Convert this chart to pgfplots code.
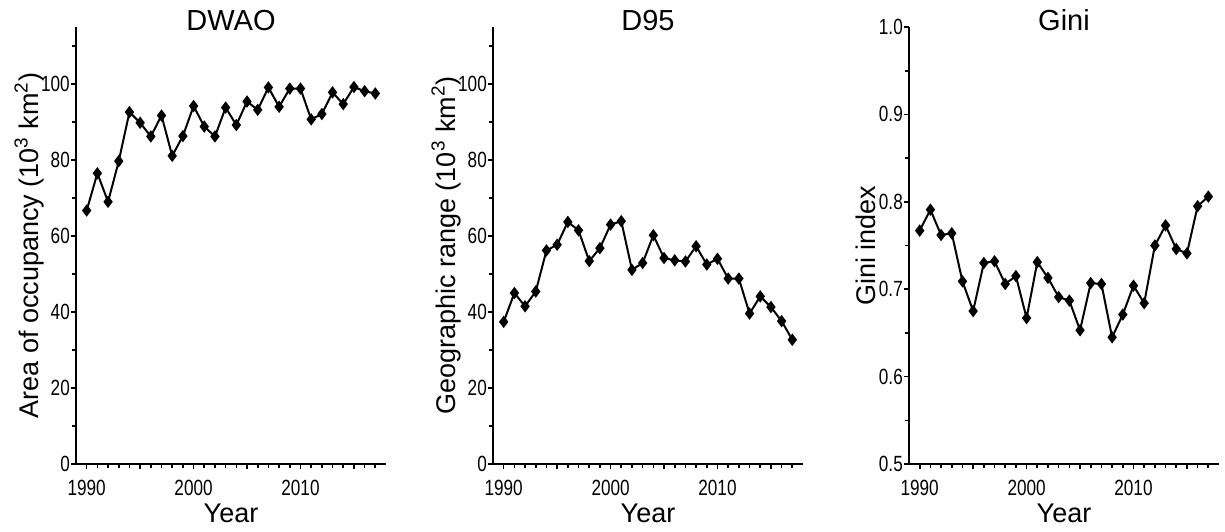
\documentclass[border=0pt]{standalone}
\usepackage{fontspec}
\setmainfont{Liberation Sans}
\newfontfamily\tickfont[FakeStretch=0.78]{Liberation Sans}
\usepackage{pgfplots}
\pgfplotsset{compat=1.18}

\pgfplotsset{
  ser/.style={black, line width=1pt, mark=diamond*, mark size=2.3pt, mark options={solid, fill=black}},
  every axis title/.style={at={(0.5,1)}, anchor=base, yshift=-1.65pt, font=\fontsize{14.5}{16}\selectfont},
  every axis y label/.style={at={(axis description cs:0,0.5)}, anchor=center, rotate=90, yshift=23.5pt, font=\fontsize{13.5}{15}\selectfont},
  every axis x label/.style={at={(axis description cs:0.5,0)}, anchor=base, yshift=-29pt, font=\fontsize{13.5}{15}\selectfont},
  panel/.style={
    scale only axis, width=155pt, height=218.5pt,
    axis x line*=bottom, axis y line*=left,
    axis line style={line width=1pt, black},
    xmin=1989, xmax=2018,
    xtick={1990,1995,...,2015},
    xticklabels={1990,,2000,,2010,},
    minor xtick={1991,...,2017},
    tick align=outside,
    major tick length=2.5pt, minor tick length=2pt,
    every tick/.style={black, line width=0.8pt},
    tick label style={font=\tickfont\fontsize{11}{11}\selectfont},
    /pgf/number format/assume math mode=true,
    yticklabel style={inner sep=0.4pt},
    xticklabel style={yshift=-2.2pt},
    clip=false,
    xlabel={Year},
  }
}

\begin{document}
\begin{tikzpicture}
\path[use as bounding box] (0,0) rectangle (612.5pt,265.5pt);

\begin{axis}[panel, at={(38pt,33.5pt)}, anchor=south west,
  title={DWAO},
  ymin=0, ymax=115,
  ytick={0,20,...,100}, minor ytick={10,30,...,110},
  ylabel={Area of occupancy (10\textsuperscript{3} km\textsuperscript{2})}]
\addplot[ser] coordinates {
(1990,66.7) (1991,76.5) (1992,69.0) (1993,79.7) (1994,92.6) (1995,89.8)
(1996,86.2) (1997,91.7) (1998,81.1) (1999,86.3) (2000,94.2) (2001,88.8)
(2002,86.2) (2003,93.8) (2004,89.2) (2005,95.4) (2006,93.2) (2007,99.1)
(2008,94.0) (2009,98.8) (2010,98.8) (2011,90.7) (2012,92.1) (2013,97.8)
(2014,94.7) (2015,99.2) (2016,98.1) (2017,97.5)
};
\end{axis}

\begin{axis}[panel, at={(246.5pt,33.5pt)}, anchor=south west,
  title={D95},
  ymin=0, ymax=115,
  ytick={0,20,...,100}, minor ytick={10,30,...,110},
  ylabel={Geographic range (10\textsuperscript{3} km\textsuperscript{2})}]
\addplot[ser] coordinates {
(1990,37.4) (1991,45.0) (1992,41.5) (1993,45.4) (1994,56.2) (1995,57.7)
(1996,63.7) (1997,61.5) (1998,53.4) (1999,56.8) (2000,63.0) (2001,63.9)
(2002,51.1) (2003,52.9) (2004,60.2) (2005,54.2) (2006,53.6) (2007,53.3)
(2008,57.3) (2009,52.5) (2010,54.0) (2011,48.8) (2012,48.8) (2013,39.6)
(2014,44.1) (2015,41.3) (2016,37.6) (2017,32.7)
};
\end{axis}

\begin{axis}[panel, at={(454.5pt,33.5pt)}, anchor=south west,
  title={Gini},
  ymin=0.5, ymax=1.0,
  ytick={0.5,0.6,...,1.0}, minor ytick={0.55,0.65,...,0.95},
  yticklabel style={/pgf/number format/.cd, fixed, fixed zerofill, precision=1},
  ylabel style={yshift=-2pt},
  ylabel={Gini index}]
\addplot[ser] coordinates {
(1990,0.767) (1991,0.791) (1992,0.762) (1993,0.764) (1994,0.709) (1995,0.675)
(1996,0.730) (1997,0.732) (1998,0.706) (1999,0.715) (2000,0.667) (2001,0.731)
(2002,0.713) (2003,0.691) (2004,0.687) (2005,0.653) (2006,0.707) (2007,0.706)
(2008,0.645) (2009,0.671) (2010,0.704) (2011,0.684) (2012,0.750) (2013,0.773)
(2014,0.746) (2015,0.741) (2016,0.795) (2017,0.806)
};
\end{axis}
\end{tikzpicture}
\end{document}
